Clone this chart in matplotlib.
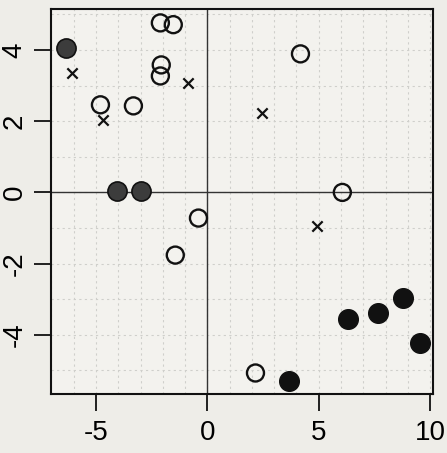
import matplotlib
matplotlib.use("Agg")
import matplotlib.pyplot as plt
import numpy as np

plt.rcParams['font.family'] = ['Liberation Sans', 'DejaVu Sans']

# open circles
open_x = [-2.11, -1.53, -2.07, -2.11, -4.80, -3.32, -0.40, -1.44, 4.18, 6.06, 2.16]
open_y = [4.76, 4.71, 3.58, 3.27, 2.46, 2.43, -0.72, -1.76, 3.89, 0.0, -5.07]

# crosses
cross_x = [-6.06, -4.67, -0.85, 2.47, 4.94]
cross_y = [3.36, 2.04, 3.07, 2.23, -0.94]

# dark grey filled points
grey_x = [-6.33, -4.04, -2.96]
grey_y = [4.06, 0.05, 0.04]

# black filled points
black_x = [3.68, 6.33, 7.68, 8.80, 9.56]
black_y = [-5.29, -3.55, -3.38, -2.96, -4.23]

xticks = [-5, 0, 5, 10]
yticks = [-4, -2, 0, 2, 4]

fig = plt.figure(figsize=(4.47, 4.53), dpi=100, facecolor='#eeede8')
ax = fig.add_axes([51 / 447, 1 - 394 / 453, (433 - 51) / 447, (394 - 9) / 453])
ax.set_facecolor('#f3f2ee')

ax.set_xlim(-7.02, 10.13)
ax.set_ylim(-5.66, 5.15)

for v in np.arange(-7, 11):
    ax.axvline(v, color='#cfcfcb', lw=0.8, ls=(0, (2, 3)), zorder=0)
for v in np.arange(-5, 6):
    ax.axhline(v, color='#cfcfcb', lw=0.8, ls=(0, (2, 3)), zorder=0)
ax.axvline(0, color='#333333', lw=1.0, zorder=1)
ax.axhline(0, color='#333333', lw=1.0, zorder=1)

ax.scatter(open_x, open_y, s=150, facecolors='none', edgecolors='#111111',
           linewidths=1.7, zorder=3)
ax.scatter(cross_x, cross_y, s=55, marker='x', c='#111111', linewidths=1.6, zorder=3)
ax.scatter(grey_x, grey_y, s=190, c='#3c3c3c', edgecolors='#111111',
           linewidths=1.2, zorder=3)
ax.scatter(black_x, black_y, s=200, c='#111111', edgecolors='#111111',
           linewidths=1.0, zorder=3)

ax.set_xticks(xticks)
ax.set_yticks(yticks)
ax.set_xticklabels([str(t) for t in xticks], fontsize=20)
ax.set_yticklabels([str(t) for t in yticks], fontsize=20, rotation=90, va='center')
ax.tick_params(direction='out', length=12, width=1.3, color='#111111')
ax.tick_params(axis='x', pad=7)
ax.tick_params(axis='y', pad=5)
for s in ax.spines.values():
    s.set_linewidth(1.5)
    s.set_color('#111111')

fig.savefig('out.png', dpi=100, facecolor=fig.get_facecolor())
